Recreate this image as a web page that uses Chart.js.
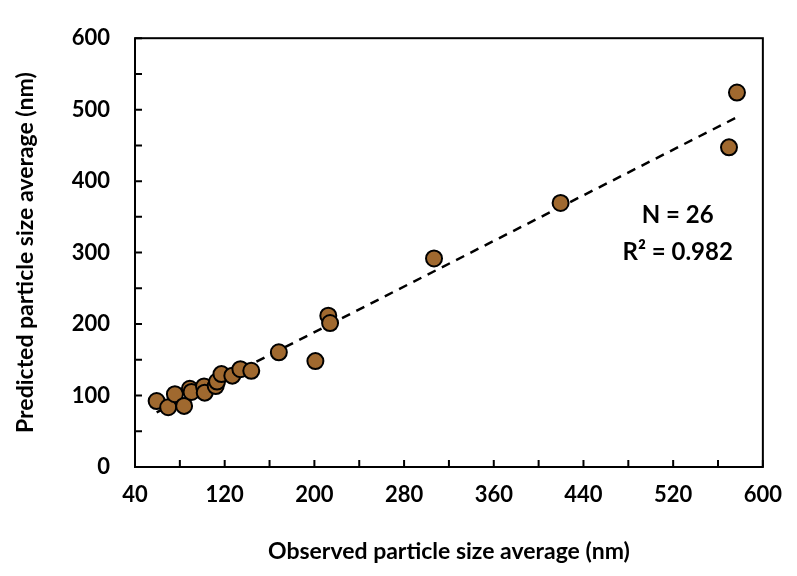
<!DOCTYPE html>
<html>
<head>
<meta charset="utf-8">
<script src="https://cdn.jsdelivr.net/npm/chart.js@4/dist/chart.umd.min.js"></script>
<style>
  body { margin: 0; background: #fff; }
  #grafico { display: block; }
</style>
</head>
<body>
<canvas id="grafico" width="797" height="576"></canvas>
<script>
// observed vs predicted particle size (nm)
const observado = [59.3, 69.6, 75.6, 83.8, 88.9, 90.4, 101.6, 102.2, 112, 113.2, 117.1, 126.8, 134, 143.7, 168.3, 200.9, 212.4, 214, 306.7, 419.6, 569.8, 576.9]
const predicho = [92.3, 83.6, 101.9, 85.5, 109.5, 105, 112.8, 104, 113.2, 119.6, 130, 127.8, 136.8, 134.6, 160.5, 148.2, 211.8, 201.4, 291.8, 369.5, 447.3, 524]
// fitted trend line
const lineaX = [59.3, 578]
const lineaY = [76.4, 490.3]
const textoN = "N = 26"
const textoR = "R\u00B2 = 0.982"

const fuente = "Lato, 'Open Sans', sans-serif"
const cafe = "#A0692F"

// frame + inward ticks + N / R2 text
const marco = {
  id: "marco",
  afterDraw(chart) {
    const ctx = chart.ctx
    const a = chart.chartArea
    const sx = chart.scales.x
    const sy = chart.scales.y
    ctx.save()
    ctx.strokeStyle = "#000"
    ctx.lineWidth = 2
    ctx.strokeRect(a.left, a.top, a.right - a.left, a.bottom - a.top)
    ctx.beginPath()
    sx.ticks.forEach(t => {
      const px = sx.getPixelForValue(t.value)
      ctx.moveTo(px, a.bottom)
      ctx.lineTo(px, a.bottom - 7)
    })
    sy.ticks.forEach(t => {
      const py = sy.getPixelForValue(t.value)
      ctx.moveTo(a.left, py)
      ctx.lineTo(a.left + 7, py)
    })
    ctx.stroke()
    ctx.fillStyle = "#000"
    ctx.font = "bold 24px " + fuente
    ctx.textAlign = "center"
    ctx.textBaseline = "middle"
    ctx.fillText(textoN, sx.getPixelForValue(524), sy.getPixelForValue(352))
    ctx.fillText(textoR, sx.getPixelForValue(524), sy.getPixelForValue(300))
    ctx.restore()
  }
}

const puntos = observado.map((v, i) => ({ x: v, y: predicho[i] }))
const linea = lineaX.map((v, i) => ({ x: v, y: lineaY[i] }))

new Chart(document.getElementById("grafico"), {
  type: "scatter",
  data: {
    datasets: [
      {
        label: "tendencia",
        type: "line",
        data: linea,
        borderColor: "#000",
        borderWidth: 2.5,
        borderDash: [9, 7],
        pointRadius: 0,
        fill: false,
        order: 2
      },
      {
        label: "datos",
        data: puntos,
        backgroundColor: cafe,
        borderColor: "#000",
        borderWidth: 2,
        pointRadius: 8,
        order: 1
      }
    ]
  },
  options: {
    responsive: false,
    animation: false,
    layout: { padding: { top: 14, right: 32, left: 0, bottom: 0 } },
    plugins: { legend: { display: false }, tooltip: { enabled: false } },
    scales: {
      x: {
        type: "linear",
        min: 40,
        max: 600,
        afterFit: (s) => { s.height = 109 },
        grid: { display: false, drawTicks: false },
        border: { display: false },
        ticks: {
          stepSize: 40,
          padding: 15,
          color: "#000",
          font: { family: fuente, size: 22, weight: "bold" },
          callback: (v) => ((v - 40) % 80 === 0 ? v : "")
        },
        title: {
          display: true,
          text: "Observed particle size average (nm)",
          color: "#000",
          font: { family: fuente, size: 23, weight: "bold" },
          padding: { top: 10, bottom: 11 }
        }
      },
      y: {
        min: 0,
        max: 600,
        afterFit: (s) => { s.width = 135 },
        grid: { display: false, drawTicks: false },
        border: { display: false },
        ticks: {
          stepSize: 50,
          padding: 25,
          color: "#000",
          font: { family: fuente, size: 22, weight: "bold" },
          callback: (v) => (v % 100 === 0 ? v : "")
        },
        title: {
          display: true,
          text: "Predicted particle size average (nm)",
          color: "#000",
          font: { family: fuente, size: 23, weight: "bold" },
          padding: { top: 12, bottom: 4 }
        }
      }
    }
  },
  plugins: [marco]
})
</script>
</body>
</html>
